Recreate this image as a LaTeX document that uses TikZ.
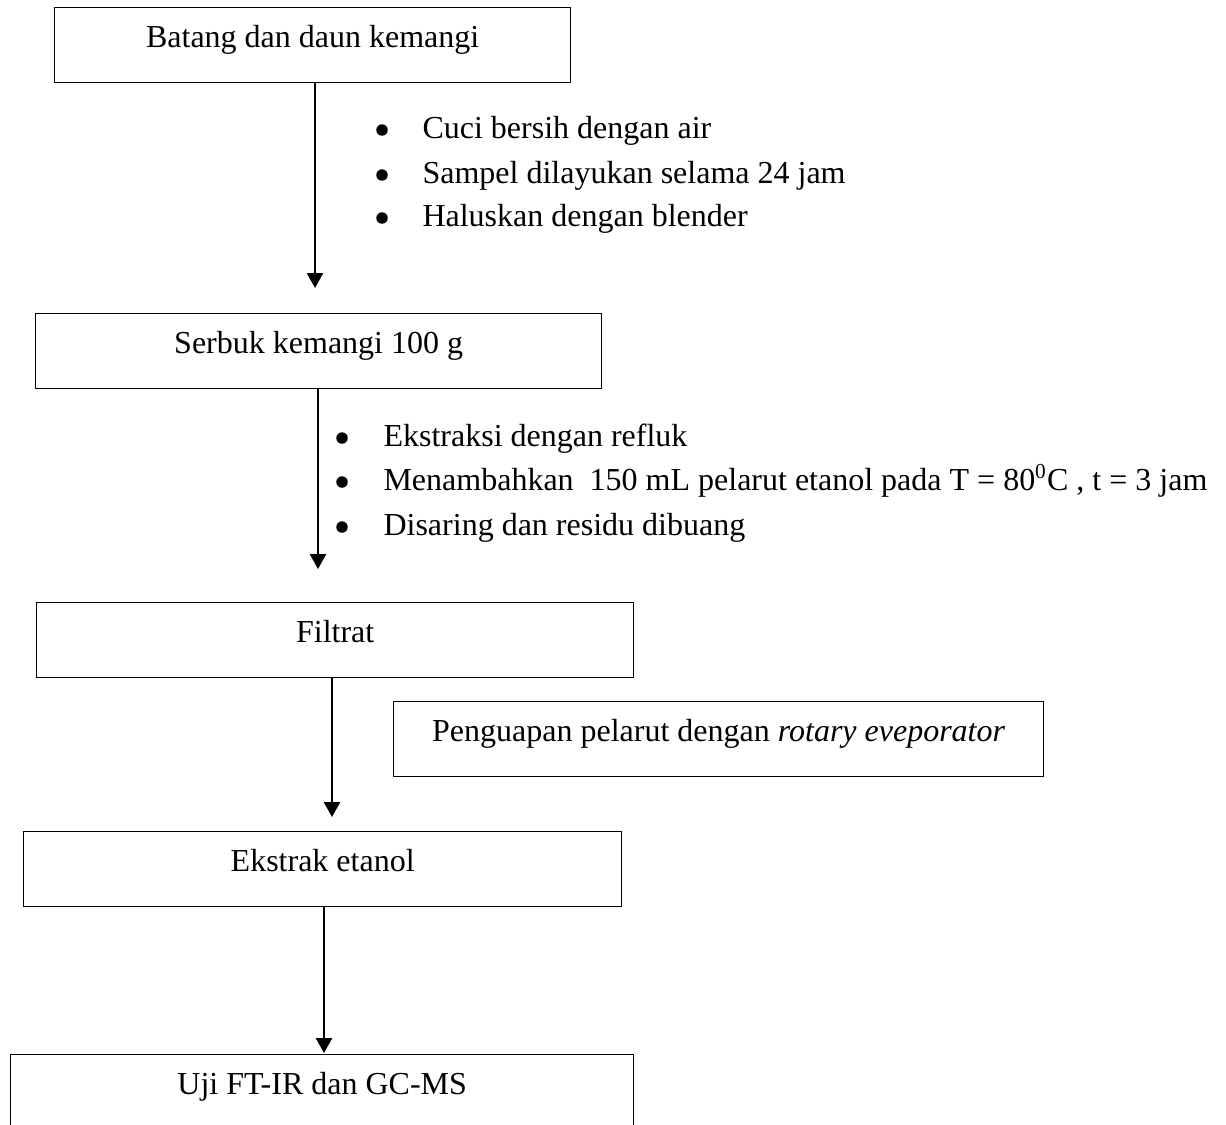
\documentclass[tikz,border=0pt]{standalone}
\usepackage{fontspec}
\setmainfont{Liberation Serif}
\usetikzlibrary{arrows.meta}
\tikzset{
  every node/.style={font=\fontsize{12}{14}\selectfont},
  box/.style={draw=black, line width=0.5pt, inner sep=0pt, anchor=north west,
    text height=15pt, text depth=13.125pt, align=center},
  arr/.style={line width=0.8pt, -{Triangle[width=6pt,length=5.6pt]}},
  bul/.style={circle, fill=black, inner sep=0pt, minimum size=4.3pt},
  itm/.style={anchor=base west, inner sep=0pt}
}
\begin{document}
\begin{tikzpicture}[x=0.375pt, y=-0.375pt]
\path[use as bounding box, clip] (0,0) rectangle (1226,1124);

% boxes
\node[box, minimum width=193.5pt] (b1) at (54,7) {Batang dan daun kemangi};
\node[box, minimum width=212.25pt] (b2) at (35,313) {Serbuk kemangi 100 g};
\node[box, minimum width=223.875pt] (b3) at (36,602) {Filtrat};
\node[box, minimum width=243.75pt] (b4) at (393,701) {Penguapan pelarut dengan \textit{rotary eveporator}};
\node[box, minimum width=224.25pt] (b5) at (23,831) {Ekstrak etanol};
\node[box, minimum width=233.625pt, text depth=22.5pt] (b6) at (10,1054) {Uji FT-IR dan GC-MS};

% arrow tips
\coordinate (t1) at (315,288);
\coordinate (t2) at (318,569);
\coordinate (t3) at (332,817);
\coordinate (t4) at (324,1053);

\draw[arr] (b1.south -| t1) -- (t1);
\draw[arr] (b2.south -| t2) -- (t2);
\draw[arr] (b3.south -| t3) -- (t3);
\draw[arr] (b5.south -| t4) -- (t4);

% first bullet group
\node[bul] (d1) at (382,130) {};
\node[itm] (i1) at (422,138) {Cuci bersih dengan air};
\node[bul] (d2) at (382,175) {};
\node[itm] (i2) at (422,183) {Sampel dilayukan selama 24 jam};
\node[bul] (d3) at (382,218) {};
\node[itm] (i3) at (422,226) {Haluskan dengan blender};

% second bullet group
\node[bul] (e1) at (342,438) {};
\node[itm] (j1) at (383,446) {Ekstraksi dengan refluk};
\node[bul] (e2) at (342,482) {};
\node[itm] (j2) at (383,490) {Menambahkan\ \ 150 mL pelarut etanol pada T = 80\textsuperscript{0}C , t = 3 jam};
\node[bul] (e3) at (342,527) {};
\node[itm] (j3) at (383,535) {Disaring dan residu dibuang};
\end{tikzpicture}
\end{document}
